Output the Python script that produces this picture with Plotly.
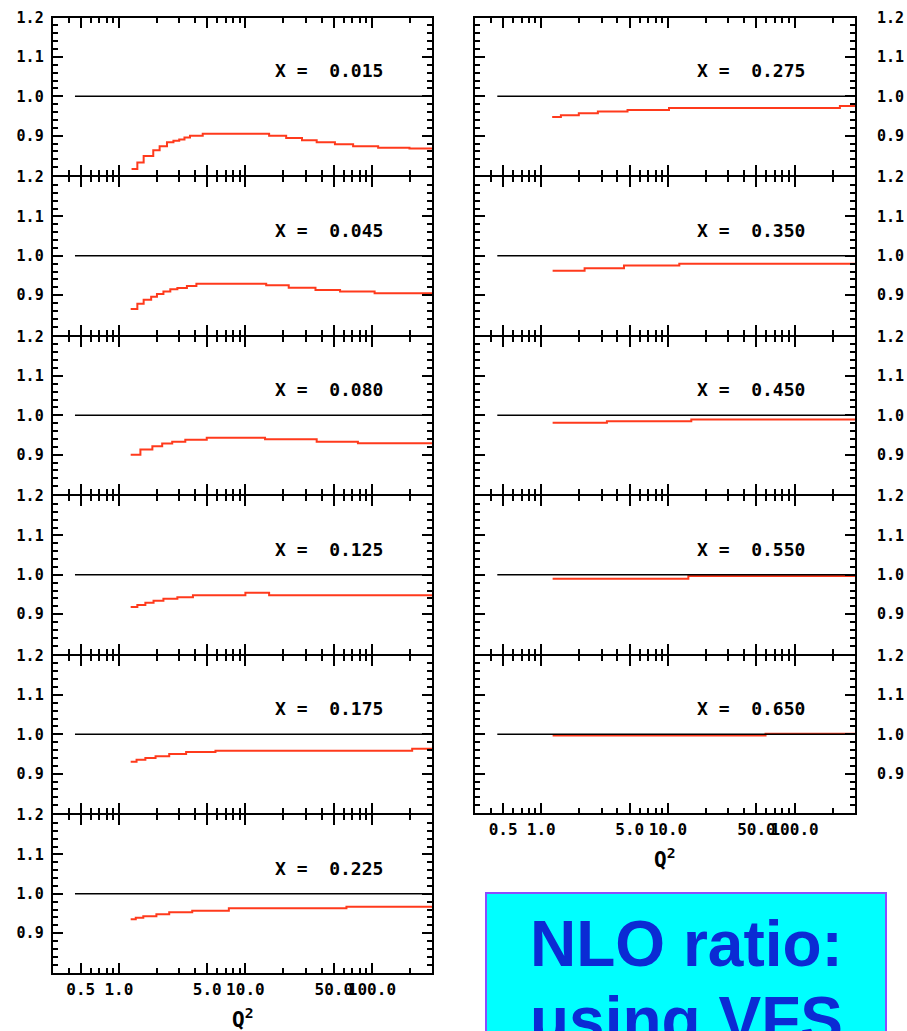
import math
import plotly.graph_objects as go

# ---------------- data ----------------
X_LABELS = ["0.015", "0.045", "0.080", "0.125", "0.175", "0.225",
            "0.275", "0.350", "0.450", "0.550", "0.650"]

Q2_015 = [1.26, 1.4, 1.57, 1.87, 2.1, 2.4, 2.7, 3.0, 3.3, 3.65, 4.6, 15.4, 21, 28, 36.6, 51, 71, 112, 198, 300]
R_015 = [0.815, 0.832, 0.848, 0.863, 0.873, 0.883, 0.887, 0.890, 0.895, 0.900, 0.905, 0.900, 0.894, 0.888, 0.883, 0.878, 0.873, 0.869, 0.867, 0.867]

Q2_045 = [1.24, 1.4, 1.57, 1.8, 2.0, 2.25, 2.55, 2.9, 3.45, 4.1, 14.6, 22, 35.8, 56, 105, 300]
R_045 = [0.865, 0.878, 0.888, 0.896, 0.903, 0.909, 0.915, 0.918, 0.923, 0.929, 0.925, 0.919, 0.913, 0.909, 0.905, 0.905]

Q2_080 = [1.24, 1.48, 1.84, 2.2, 2.64, 3.35, 4.95, 14.3, 36.6, 77.5, 300]
R_080 = [0.900, 0.913, 0.921, 0.928, 0.933, 0.938, 0.943, 0.939, 0.933, 0.929, 0.929]

Q2_125 = [1.24, 1.4, 1.62, 1.88, 2.25, 2.9, 3.85, 10, 15.4, 300]
R_125 = [0.918, 0.923, 0.929, 0.934, 0.939, 0.943, 0.948, 0.954, 0.948, 0.948]

Q2_175 = [1.24, 1.38, 1.62, 1.95, 2.5, 3.4, 5.8, 208, 300]
R_175 = [0.930, 0.935, 0.940, 0.944, 0.950, 0.955, 0.958, 0.963, 0.963]

Q2_225 = [1.24, 1.36, 1.56, 1.98, 2.5, 3.8, 7.4, 62.9, 300]
R_225 = [0.935, 0.939, 0.943, 0.948, 0.953, 0.957, 0.963, 0.967, 0.967]

Q2_275 = [1.22, 1.43, 1.98, 2.8, 4.8, 10.2, 228, 300]
R_275 = [0.947, 0.952, 0.957, 0.961, 0.965, 0.970, 0.975, 0.975]

Q2_350 = [1.23, 2.2, 4.5, 12.3, 300]
R_350 = [0.962, 0.968, 0.975, 0.980, 0.980]

Q2_450 = [1.23, 3.3, 15.3, 300]
R_450 = [0.981, 0.985, 0.989, 0.989]

Q2_550 = [1.23, 14.5, 300]
R_550 = [0.990, 0.997, 0.997]

Q2_650 = [1.23, 59, 300]
R_650 = [0.997, 1.001, 1.001]

CURVES_Q2 = [Q2_015, Q2_045, Q2_080, Q2_125, Q2_175, Q2_225,
             Q2_275, Q2_350, Q2_450, Q2_550, Q2_650]
CURVES_R = [R_015, R_045, R_080, R_125, R_175, R_225,
            R_275, R_350, R_450, R_550, R_650]

REF_Q2 = [0.45, 300]
REF_R = [1.0, 1.0]

X_MAJOR = [0.5, 1, 5, 10, 50, 100]
X_MAJOR_TEXT = ["0.5", "1.0", "5.0", "10.0", "50.0", "100.0"]
X_MINOR = [0.4, 0.6, 0.7, 0.8, 0.9, 2, 3, 4, 6, 7, 8, 9,
           20, 30, 40, 60, 70, 80, 90, 200]
Y_TICKS = [0.9, 1.0, 1.1, 1.2]
Y_TICK_TEXT = ["0.9", "1.0", "1.1", "1.2"]

# ---------------- layout geometry (page pixels) ----------------
W, H = 907, 1031
LEFT_X = (51.7, 433.3)
RIGHT_X = (474.0, 856.0)
TOP = 16.5
PH = 159.5
LW = 2.0   # frame line width
HALF = LW / 2


def px_x(p):
    return p / W


def px_y(p):
    return 1 - p / H


RED = "#ff3a1c"
MONO = "DejaVu Sans Mono"

fig = go.Figure()
layout = dict(width=W, height=H, margin=dict(l=0, r=0, t=0, b=0, autoexpand=False),
              paper_bgcolor="white", plot_bgcolor="white", showlegend=False)
annotations = []

for i in range(11):
    n = i + 1
    if i < 6:
        col, k, xpx, nrows = 0, i, LEFT_X, 6
    else:
        col, k, xpx, nrows = 1, i - 6, RIGHT_X, 5
    top = TOP + PH * k
    bot = top + PH
    xs = "x" if n == 1 else f"x{n}"
    ys = "y" if n == 1 else f"y{n}"
    is_bottom = (k == nrows - 1)

    fig.add_trace(go.Scatter(x=CURVES_Q2[i], y=CURVES_R[i], mode="lines",
                             line=dict(color=RED, width=2, shape="hv"),
                             xaxis=xs, yaxis=ys))
    fig.add_trace(go.Scatter(x=REF_Q2, y=REF_R, mode="lines",
                             line=dict(color="black", width=1.5),
                             xaxis=xs, yaxis=ys, hoverinfo="skip"))

    xa = dict(type="log", domain=[px_x(xpx[0] + HALF), px_x(xpx[1] - HALF)], anchor=ys,
              range=[math.log10(0.3), math.log10(300)], automargin=False,
              showline=True, linecolor="black", linewidth=LW, mirror="ticks",
              ticks="inside", ticklen=10, tickwidth=1.5, tickcolor="black",
              tickmode="array", tickvals=X_MAJOR, ticktext=X_MAJOR_TEXT, tickangle=0,
              showticklabels=is_bottom, showgrid=False, zeroline=False,
              ticklabelstandoff=1, ticklabeloverflow="allow",
              tickfont=dict(family=MONO, size=16, color="black", weight="bold"),
              minor=dict(ticks="inside", ticklen=5, tickwidth=1.5, tickcolor="black",
                         tickmode="array", tickvals=X_MINOR, showgrid=False))
    ya = dict(domain=[px_y(bot - HALF), px_y(top + HALF)], anchor=xs, range=[0.8, 1.2],
              side="left" if col == 0 else "right", automargin=False,
              showline=True, linecolor="black", linewidth=LW, mirror="ticks",
              ticks="inside", ticklen=10, tickwidth=1.5, tickcolor="black",
              tickmode="array", tickvals=Y_TICKS, ticktext=Y_TICK_TEXT,
              showgrid=False, zeroline=False, ticklabeloverflow="allow",
              ticklabelstandoff=4 if col == 0 else 17,
              tickfont=dict(family=MONO, size=15, color="black", weight="bold"),
              minor=dict(ticks="inside", ticklen=5, tickwidth=1.5, tickcolor="black",
                         dtick=0.02, tick0=0.8, showgrid=False))
    layout["xaxis" if n == 1 else f"xaxis{n}"] = xa
    layout["yaxis" if n == 1 else f"yaxis{n}"] = ya

    annotations.append(dict(xref=f"{xs} domain", yref=ys, x=0.727, y=1.065,
                            text="X\u00a0=\u00a0\u00a0" + X_LABELS[i], showarrow=False,
                            xanchor="center", yanchor="middle",
                            font=dict(family=MONO, size=18, color="black", weight="bold")))

    if is_bottom:
        annotations.append(dict(xref="paper", yref="paper",
                                x=px_x((xpx[0] + xpx[1]) / 2), y=px_y(bot + 44),
                                text="Q<sup>2</sup>", showarrow=False,
                                xanchor="center", yanchor="middle",
                                font=dict(family=MONO, size=21, color="black", weight="bold")))

# cyan box with text
layout["shapes"] = [dict(type="rect", xref="paper", yref="paper",
                         x0=px_x(486), x1=px_x(886), y0=px_y(1070), y1=px_y(893),
                         fillcolor="#00ffff", line=dict(color="#8a4cff", width=2),
                         layer="above")]
annotations.append(dict(xref="paper", yref="paper", x=px_x(686), y=px_y(944),
                        text="NLO ratio:", showarrow=False, xanchor="center", yanchor="middle",
                        font=dict(family="Liberation Sans", size=64, color="#0b2bd4", weight="bold")))
annotations.append(dict(xref="paper", yref="paper", x=px_x(686), y=px_y(1020),
                        text="using VFS", showarrow=False, xanchor="center", yanchor="middle",
                        font=dict(family="Liberation Sans", size=64, color="#0b2bd4", weight="bold")))
layout["annotations"] = annotations

fig.update_layout(**layout)
fig.write_html("out.html",
               config={"displayModeBar": False},
               post_script="document.body.style.margin='0';"
                           "document.body.style.overflow='hidden';")
